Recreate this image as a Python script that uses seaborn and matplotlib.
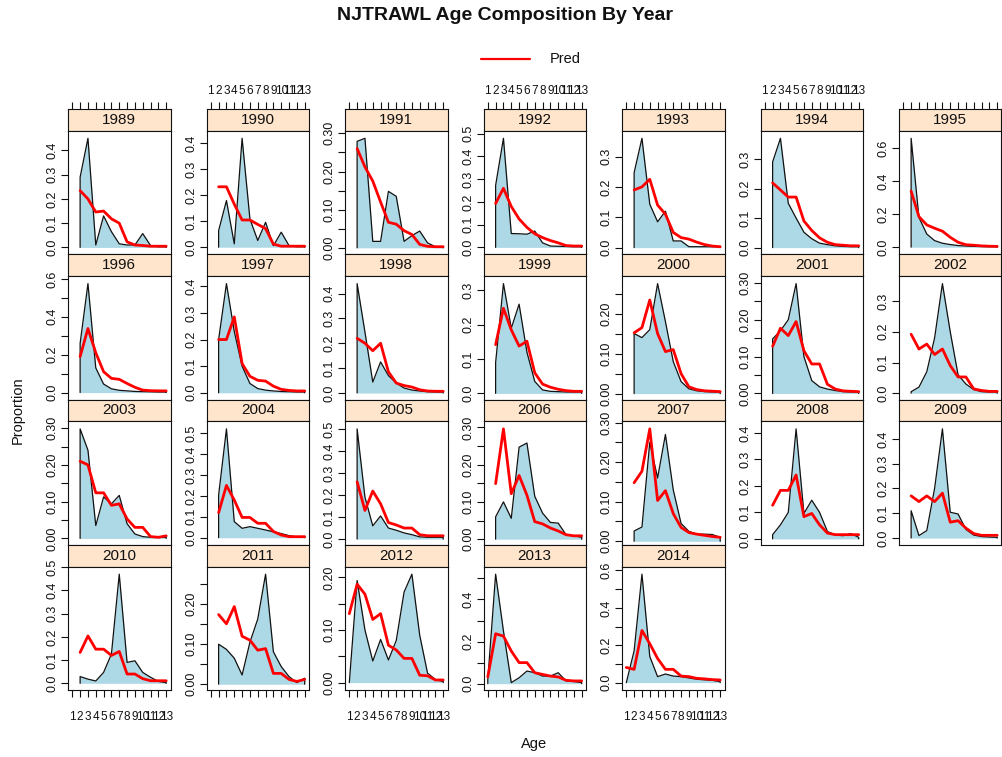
import numpy as np
import pandas as pd
import matplotlib
matplotlib.use("Agg")
import matplotlib.pyplot as plt
from matplotlib.lines import Line2D
import seaborn as sns

# ages: 2-13 for 1989-2011, 1-13 for 2012-2014
ages = list(range(2, 14))
ages1 = list(range(1, 14))
years = list(range(1989, 2015))

obs_1989 = [0.29, 0.45, 0.01, 0.13, 0.065, 0.015, 0.01, 0.01, 0.057, 0.008, 0.003, 0.003]
pred_1989 = [0.234, 0.2, 0.146, 0.15, 0.118, 0.1, 0.023, 0.01, 0.008, 0.005, 0.005, 0.005]
obs_1990 = [0.064, 0.18, 0.013, 0.42, 0.109, 0.026, 0.096, 0.006, 0.058, 0.006, 0.002, 0.002]
pred_1990 = [0.233, 0.233, 0.166, 0.105, 0.105, 0.088, 0.072, 0.012, 0.004, 0.004, 0.004, 0.004]
obs_1991 = [0.279, 0.287, 0.017, 0.017, 0.148, 0.135, 0.017, 0.032, 0.044, 0.013, 0.003, 0.003]
pred_1991 = [0.26, 0.212, 0.175, 0.12, 0.067, 0.062, 0.045, 0.035, 0.009, 0.004, 0.003, 0.003]
obs_1992 = [0.273, 0.48, 0.061, 0.06, 0.058, 0.072, 0.02, 0.006, 0.005, 0.004, 0.003, 0.003]
pred_1992 = [0.193, 0.26, 0.18, 0.125, 0.088, 0.06, 0.043, 0.03, 0.02, 0.008, 0.006, 0.006]
obs_1993 = [0.247, 0.36, 0.143, 0.085, 0.12, 0.022, 0.022, 0.003, 0.003, 0.003, 0.003, 0.003]
pred_1993 = [0.19, 0.2, 0.225, 0.14, 0.11, 0.05, 0.033, 0.028, 0.018, 0.01, 0.005, 0.003]
obs_1994 = [0.29, 0.37, 0.15, 0.1, 0.052, 0.03, 0.015, 0.01, 0.006, 0.004, 0.003, 0.003]
pred_1994 = [0.219, 0.195, 0.171, 0.171, 0.09, 0.058, 0.033, 0.018, 0.01, 0.008, 0.006, 0.006]
obs_1995 = [0.66, 0.18, 0.08, 0.04, 0.024, 0.016, 0.01, 0.007, 0.005, 0.004, 0.003, 0.003]
pred_1995 = [0.34, 0.185, 0.135, 0.115, 0.097, 0.06, 0.03, 0.015, 0.012, 0.008, 0.006, 0.005]
obs_1996 = [0.26, 0.575, 0.13, 0.045, 0.02, 0.012, 0.009, 0.006, 0.005, 0.004, 0.003, 0.003]
pred_1996 = [0.19, 0.338, 0.21, 0.11, 0.075, 0.07, 0.048, 0.028, 0.013, 0.01, 0.009, 0.009]
obs_1997 = [0.2, 0.41, 0.23, 0.1, 0.035, 0.016, 0.01, 0.007, 0.005, 0.004, 0.003, 0.003]
pred_1997 = [0.2, 0.2, 0.285, 0.11, 0.062, 0.047, 0.044, 0.025, 0.013, 0.009, 0.007, 0.007]
obs_1998 = [0.44, 0.245, 0.044, 0.125, 0.07, 0.04, 0.02, 0.012, 0.008, 0.005, 0.004, 0.004]
pred_1998 = [0.22, 0.2, 0.17, 0.2, 0.085, 0.04, 0.03, 0.024, 0.013, 0.008, 0.007, 0.007]
obs_1999 = [0.09, 0.32, 0.19, 0.26, 0.12, 0.035, 0.01, 0.006, 0.005, 0.004, 0.004, 0.004]
pred_1999 = [0.142, 0.248, 0.185, 0.138, 0.152, 0.06, 0.027, 0.018, 0.012, 0.008, 0.006, 0.006]
obs_2000 = [0.15, 0.14, 0.16, 0.275, 0.18, 0.08, 0.03, 0.012, 0.007, 0.005, 0.004, 0.004]
pred_2000 = [0.152, 0.165, 0.234, 0.15, 0.105, 0.11, 0.05, 0.017, 0.01, 0.007, 0.006, 0.005]
obs_2001 = [0.148, 0.17, 0.2, 0.298, 0.1, 0.035, 0.018, 0.012, 0.008, 0.005, 0.004, 0.004]
pred_2001 = [0.128, 0.177, 0.157, 0.195, 0.116, 0.08, 0.08, 0.025, 0.012, 0.007, 0.006, 0.005]
obs_2002 = [0.005, 0.02, 0.07, 0.18, 0.357, 0.2, 0.06, 0.03, 0.012, 0.005, 0.004, 0.004]
pred_2002 = [0.192, 0.144, 0.16, 0.126, 0.144, 0.09, 0.053, 0.053, 0.014, 0.009, 0.006, 0.006]
obs_2003 = [0.298, 0.24, 0.035, 0.113, 0.094, 0.117, 0.04, 0.012, 0.005, 0.003, 0.003, 0.003]
pred_2003 = [0.21, 0.2, 0.124, 0.124, 0.09, 0.094, 0.053, 0.03, 0.03, 0.005, 0.003, 0.007]
obs_2004 = [0.204, 0.52, 0.077, 0.045, 0.053, 0.045, 0.037, 0.028, 0.02, 0.01, 0.004, 0.002]
pred_2004 = [0.12, 0.25, 0.18, 0.097, 0.097, 0.069, 0.069, 0.03, 0.013, 0.005, 0.005, 0.005]
obs_2005 = [0.5, 0.19, 0.06, 0.105, 0.05, 0.04, 0.028, 0.02, 0.01, 0.008, 0.008, 0.008]
pred_2005 = [0.26, 0.13, 0.218, 0.16, 0.075, 0.064, 0.05, 0.05, 0.02, 0.015, 0.015, 0.015]
obs_2006 = [0.06, 0.1, 0.056, 0.247, 0.258, 0.115, 0.07, 0.045, 0.043, 0.012, 0.009, 0.005]
pred_2006 = [0.149, 0.296, 0.122, 0.171, 0.118, 0.047, 0.041, 0.03, 0.022, 0.012, 0.009, 0.009]
obs_2007 = [0.026, 0.036, 0.25, 0.16, 0.27, 0.13, 0.045, 0.025, 0.018, 0.018, 0.017, 0.01]
pred_2007 = [0.148, 0.177, 0.284, 0.103, 0.128, 0.07, 0.035, 0.022, 0.018, 0.015, 0.012, 0.01]
obs_2008 = [0.016, 0.053, 0.1, 0.415, 0.096, 0.146, 0.1, 0.028, 0.015, 0.012, 0.02, 0.006]
pred_2008 = [0.127, 0.183, 0.183, 0.241, 0.084, 0.096, 0.053, 0.022, 0.016, 0.016, 0.016, 0.016]
obs_2009 = [0.11, 0.01, 0.03, 0.2, 0.44, 0.104, 0.097, 0.035, 0.012, 0.006, 0.004, 0.003]
pred_2009 = [0.17, 0.147, 0.17, 0.147, 0.181, 0.064, 0.07, 0.04, 0.018, 0.011, 0.011, 0.011]
obs_2010 = [0.029, 0.018, 0.01, 0.047, 0.126, 0.47, 0.09, 0.097, 0.047, 0.026, 0.008, 0.003]
pred_2010 = [0.133, 0.204, 0.147, 0.147, 0.12, 0.137, 0.04, 0.04, 0.02, 0.011, 0.011, 0.011]
obs_2011 = [0.1, 0.087, 0.065, 0.023, 0.105, 0.163, 0.275, 0.081, 0.044, 0.019, 0.004, 0.015]
pred_2011 = [0.174, 0.151, 0.194, 0.12, 0.11, 0.085, 0.089, 0.027, 0.027, 0.012, 0.007, 0.012]
obs_2012 = [0.0, 0.194, 0.1, 0.041, 0.082, 0.043, 0.08, 0.172, 0.206, 0.09, 0.018, 0.006, 0.002]
pred_2012 = [0.131, 0.187, 0.168, 0.12, 0.131, 0.071, 0.062, 0.046, 0.046, 0.014, 0.013, 0.005, 0.005]
obs_2013 = [0.02, 0.52, 0.25, 0.005, 0.028, 0.06, 0.052, 0.036, 0.036, 0.052, 0.013, 0.01, 0.005]
pred_2013 = [0.032, 0.237, 0.226, 0.155, 0.1, 0.1, 0.052, 0.044, 0.036, 0.032, 0.016, 0.013, 0.013]
obs_2014 = [0.0, 0.17, 0.58, 0.14, 0.032, 0.046, 0.035, 0.032, 0.025, 0.018, 0.015, 0.012, 0.005]
pred_2014 = [0.081, 0.071, 0.279, 0.208, 0.129, 0.071, 0.071, 0.035, 0.032, 0.023, 0.02, 0.016, 0.014]

obs_all = [obs_1989, obs_1990, obs_1991, obs_1992, obs_1993, obs_1994, obs_1995,
           obs_1996, obs_1997, obs_1998, obs_1999, obs_2000, obs_2001, obs_2002,
           obs_2003, obs_2004, obs_2005, obs_2006, obs_2007, obs_2008, obs_2009,
           obs_2010, obs_2011, obs_2012, obs_2013, obs_2014]
pred_all = [pred_1989, pred_1990, pred_1991, pred_1992, pred_1993, pred_1994, pred_1995,
            pred_1996, pred_1997, pred_1998, pred_1999, pred_2000, pred_2001, pred_2002,
            pred_2003, pred_2004, pred_2005, pred_2006, pred_2007, pred_2008, pred_2009,
            pred_2010, pred_2011, pred_2012, pred_2013, pred_2014]

x_ticks = list(range(1, 14))
x_ticklabels = [str(a) for a in x_ticks]

# panels where every other y label is dropped (overlap)
thin_years = [1991, 1996, 2000, 2001, 2003, 2006, 2007, 2011, 2012, 2013, 2014]

recs = []
for yr, o, p in zip(years, obs_all, pred_all):
    aa = ages1 if len(o) == 13 else ages
    for a, ov, pv in zip(aa, o, p):
        recs.append((yr, a, ov, pv))
df = pd.DataFrame(recs, columns=["year", "age", "obs", "pred"])


def pretty_step(lo, hi, n=5, h=1.5):
    # R's pretty() unit choice
    cell = (hi - lo) / n
    U = 10 ** np.floor(np.log10(cell))
    unit = U
    if 2 * U - cell < h * (cell - unit):
        unit = 2 * U
        if 5 * U - cell < (0.5 + 1.5 * h) * (cell - unit):
            unit = 5 * U
            if 10 * U - cell < h * (cell - unit):
                unit = 10 * U
    return unit


sns.set_style("white")
plt.rcParams['font.family'] = ['Liberation Sans', 'DejaVu Sans']

W, H = 1002.0, 757.0
fig = plt.figure(figsize=(W / 100, H / 100), dpi=100)


def px(x0, y0, w, h):
    return [x0 / W, 1 - (y0 + h) / H, w / W, h / H]


pw, sh, ph = 102.5, 21.7, 123.6
ncol = 7
nrow = 4
xlim = (0.45, 13.55)
ink = '#111111'
for i, yr in enumerate(years):
    r, c = divmod(i, ncol)
    x0 = 68 + 138.5 * c
    top = 109 + 145.3 * r
    sax = fig.add_axes(px(x0, top, pw, sh))
    ax = fig.add_axes(px(x0, top + sh, pw, ph))

    d = df[df.year == yr]
    xa = list(d.age)
    ya = list(d.obs)
    ax.fill_between(xa, 0, ya, color='#ADD8E6', lw=0)
    sns.lineplot(x=[xa[0]] + xa + [xa[-1]], y=[0] + ya + [0], sort=False,
                 estimator=None, color=ink, lw=0.9, ax=ax)
    sns.lineplot(data=d, x='age', y='pred', sort=False, estimator=None,
                 color='red', lw=2.0, ax=ax)

    lo = min(d.obs.min(), d.pred.min())
    hi = max(d.obs.max(), d.pred.max())
    rng = hi - lo
    ylo, yhi = lo - 0.07 * rng, hi + 0.07 * rng
    step = pretty_step(ylo, yhi)
    ticks = np.arange(np.ceil(ylo / step - 1e-9), np.floor(yhi / step + 1e-9) + 1) * step
    ticks = np.round(ticks, 6) + 0.0
    dec = int(np.ceil(-np.log10(step) - 1e-9))
    labs = [f"{abs(t) if abs(t) < 1e-9 else t:.{dec}f}" for t in ticks]
    if yr in thin_years:
        labs = [l if k % 2 == 0 else "" for k, l in enumerate(labs)]
    ax.set_ylim(ylo, yhi)
    ax.set_yticks(ticks)
    ax.set_yticklabels(labs, rotation=90, va='center')
    ax.set_xlim(*xlim)
    ax.set_xlabel("")
    ax.set_ylabel("")
    ax.tick_params(axis='y', direction='out', length=5, width=0.8, pad=1.5,
                   labelsize=9, left=True, right=False, colors=ink)
    ax.set_xticks(x_ticks)
    if r == nrow - 1:
        ax.tick_params(axis='x', direction='out', length=5, width=0.8, pad=10,
                       labelsize=8.5, bottom=True, top=False,
                       labelbottom=(c % 2 == 0), colors=ink)
        ax.set_xticklabels(x_ticklabels)
    else:
        ax.tick_params(axis='x', bottom=False, labelbottom=False)
    for s in ax.spines.values():
        s.set_color(ink)
        s.set_linewidth(0.8)

    sax.set_facecolor('#FFE5CC')
    sax.set_xlim(*xlim)
    sax.set_ylim(0, 1)
    sax.set_yticks([])
    sax.text(0.5, 0.5, str(yr), transform=sax.transAxes, ha='center',
             va='center', fontsize=11, color=ink)
    if r == 0:
        sax.set_xticks(x_ticks)
        sax.set_xticklabels(x_ticklabels)
        sax.tick_params(axis='x', direction='out', length=5, width=0.8, pad=4,
                        labelsize=8.5, top=True, bottom=False, labeltop=(c % 2 == 1),
                        labelbottom=False, colors=ink)
    else:
        sax.set_xticks([])
    for s in sax.spines.values():
        s.set_color(ink)
        s.set_linewidth(0.8)

fig.text(505 / W, 1 - 15 / H, "NJTRAWL Age Composition By Year", ha='center',
         va='center', fontsize=14, fontweight='bold', color=ink)
fig.add_artist(Line2D([481 / W, 530 / W], [1 - 59 / H] * 2, color='red', lw=1.6))
fig.text(550 / W, 1 - 59 / H, "Pred", va='center', fontsize=10.5, color=ink)
fig.text(18 / W, 1 - 410 / H, "Proportion", rotation=90, ha='center', va='center',
         fontsize=10.5, color=ink)
fig.text(534 / W, 1 - 744 / H, "Age", ha='center', va='center', fontsize=10.5,
         color=ink)

fig.savefig("out.png", dpi=100)
